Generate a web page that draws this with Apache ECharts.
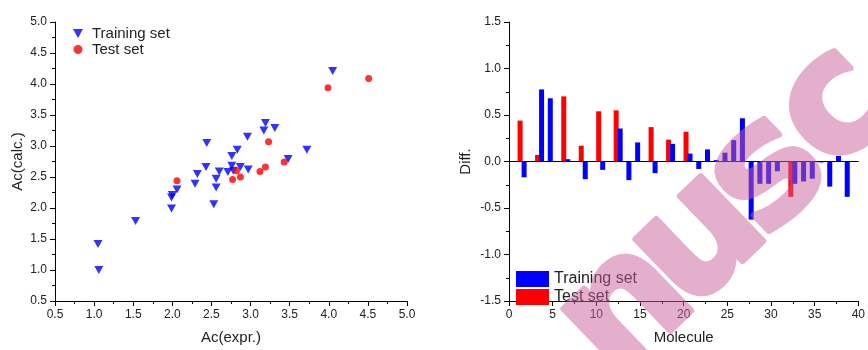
<!DOCTYPE html>
<html>
<head>
<meta charset="utf-8">
<script src="https://cdn.jsdelivr.net/npm/echarts@6/dist/echarts.min.js"></script>
<style>
  html, body { margin: 0; padding: 0; background: #fff; }
  #chart { width: 868px; height: 350px; }
</style>
</head>
<body>
<div id="chart"></div>
<script>
// left panel: Ac(expr.) vs Ac(calc.)
var trainingSet = [
  [1.05, 1.42], [1.06, 1.00], [1.53, 1.79], [1.99, 1.99], [1.99, 2.17],
  [2.00, 2.21], [2.06, 2.30], [2.29, 2.39], [2.32, 2.55], [2.44, 3.05],
  [2.43, 2.66], [2.53, 2.06], [2.56, 2.33], [2.56, 2.47], [2.60, 2.59],
  [2.71, 2.58], [2.76, 2.84], [2.76, 2.68], [2.78, 2.60], [2.83, 2.94],
  [2.87, 2.66], [2.96, 3.15], [2.97, 2.62], [3.17, 3.25], [3.19, 3.37],
  [3.31, 3.29], [3.48, 2.79], [3.72, 2.94], [4.05, 4.21]
];
var testSet = [
  [2.06, 2.44], [2.77, 2.46], [2.82, 2.60], [2.87, 2.50], [3.12, 2.59],
  [3.19, 2.66], [3.23, 3.07], [3.43, 2.74], [3.99, 3.94], [4.51, 4.09]
];

// right panel: difference per molecule slot (0..39), '-' = no bar
var slots = [];
for (var i = 0; i < 40; i++) slots.push(String(i));
var testDiff = [
  '-', 0.44, '-', 0.07, '-', '-', 0.70, '-', 0.17, '-',
  0.54, '-', 0.55, '-', '-', '-', 0.37, '-', 0.235, '-',
  0.32, '-', '-', '-', '-', '-', '-', '-', '-', '-',
  '-', '-', -0.38, '-', '-', '-', '-', '-', '-', '-'
];
var trainDiff = [
  '-', -0.17, '-', 0.775, 0.68, '-', 0.025, '-', -0.19, '-',
  -0.09, '-', 0.355, -0.20, 0.205, '-', -0.125, '-', 0.19, '-',
  0.085, -0.08, 0.13, 0.015, 0.095, 0.23, 0.465, -0.625, -0.24, -0.24,
  -0.105, '-', -0.24, -0.215, -0.185, -0.01, -0.27, 0.06, -0.38, '-'
];

var FONT = '"Liberation Sans", Arial, sans-serif';
var axisBase = {
  axisLine: { show: true, onZero: false, lineStyle: { color: '#000', width: 1 } },
  axisTick: { show: true, inside: false, length: 5, lineStyle: { color: '#000', width: 1 } },
  minorTick: { show: true, splitNumber: 2, length: 3, lineStyle: { color: '#000', width: 1 } },
  axisLabel: { color: '#222', fontSize: 12, fontFamily: FONT },
  splitLine: { show: false },
  nameTextStyle: { color: '#222', fontSize: 15, fontFamily: FONT },
  nameLocation: 'middle'
};
function ax(extra) {
  return Object.assign({}, JSON.parse(JSON.stringify(axisBase)), extra);
}
function oneDecimal(v) { return v.toFixed(1); }

// watermark: draw the letters once on a canvas, then blend it over the chart
function makeWatermark() {
  var c = document.createElement('canvas');
  c.width = 868; c.height = 350;
  var ctx = c.getContext('2d');
  ctx.translate(627, 310);
  ctx.rotate(-44 * Math.PI / 180);
  ctx.font = 'bold 165px "DejaVu Sans"';
  ctx.fillStyle = ctx.strokeStyle = '#c9619b';
  ctx.lineWidth = 6;
  ctx.lineJoin = 'round';
  ctx.textAlign = 'center';
  ctx.textBaseline = 'alphabetic';
  var letters = ['n', 'u', 's', 'c'];
  var offs = [0, 101, 196, 291];
  letters.forEach(function (ch, k) {
    ctx.fillText(ch, offs[k], 45);
    ctx.strokeText(ch, offs[k], 45);
  });
  return c;
}

var chart = echarts.init(document.getElementById('chart'));
var option = {
  animation: false,
  backgroundColor: '#fff',
  grid: [
    { left: 55, top: 22, width: 352, height: 283 },
    { left: 509, top: 22, width: 351, height: 283 }
  ],
  legend: [
    {
      data: [
        { name: 'Training set', icon: 'path://M0,0L10,0L5,9Z' },
        { name: 'Test set', icon: 'circle' }
      ],
      orient: 'vertical', left: 68, top: 21, itemGap: 1,
      itemWidth: 10, itemHeight: 9,
      textStyle: { color: '#222', fontSize: 15, fontFamily: FONT, padding: [0, 0, 0, 4] }
    },
    {
      data: [{ name: 'Training set ' }, { name: 'Test set ' }],
      orient: 'vertical', left: 511, top: 266, itemGap: 2,
      itemWidth: 33, itemHeight: 16, icon: 'rect',
      textStyle: { color: '#222', fontSize: 16, fontFamily: FONT }
    }
  ],
  xAxis: [
    ax({ gridIndex: 0, type: 'value', min: 0.5, max: 5, interval: 0.5, name: 'Ac(expr.)', nameGap: 29,
         axisLabel: { color: '#222', fontSize: 12, fontFamily: FONT, formatter: oneDecimal } }),
    { gridIndex: 1, type: 'category', data: slots, boundaryGap: true,
      axisLine: { show: true, onZero: true, lineStyle: { color: '#000', width: 1 } },
      axisTick: { show: false }, axisLabel: { show: false }, splitLine: { show: false } },
    ax({ gridIndex: 1, type: 'value', min: 0, max: 40, interval: 5, name: 'Molecule', nameGap: 29, position: 'bottom' })
  ],
  yAxis: [
    ax({ gridIndex: 0, type: 'value', min: 0.5, max: 5, interval: 0.5, name: 'Ac(calc.)', nameGap: 30,
         axisLabel: { color: '#222', fontSize: 12, fontFamily: FONT, formatter: oneDecimal } }),
    ax({ gridIndex: 1, type: 'value', min: -1.5, max: 1.5, interval: 0.5, name: 'Diff.', nameGap: 36,
         axisLabel: { color: '#222', fontSize: 12, fontFamily: FONT, formatter: oneDecimal } })
  ],
  series: [
    {
      name: 'Training set', type: 'scatter', xAxisIndex: 0, yAxisIndex: 0,
      symbol: 'triangle', symbolRotate: 180, symbolSize: [9, 8],
      itemStyle: { color: '#0000ff' }, data: trainingSet
    },
    {
      name: 'Test set', type: 'scatter', xAxisIndex: 0, yAxisIndex: 0,
      symbol: 'circle', symbolSize: 7,
      itemStyle: { color: '#ff0000' }, data: testSet, z: 3
    },
    {
      name: 'Test set ', type: 'bar', xAxisIndex: 1, yAxisIndex: 1,
      barWidth: 5, barGap: '-20%',
      itemStyle: { color: '#ff0000' }, data: testDiff
    },
    {
      name: 'Training set ', type: 'bar', xAxisIndex: 1, yAxisIndex: 1,
      barWidth: 5, barGap: '-20%',
      itemStyle: { color: '#0000ff' }, data: trainDiff
    }
  ],
  graphic: [
    {
      type: 'image', x: 0, y: 0, z: 100, silent: true,
      style: { image: makeWatermark(), width: 868, height: 350, opacity: 0.5 }
    }
  ]
};
chart.setOption(option);
</script>
</body>
</html>
